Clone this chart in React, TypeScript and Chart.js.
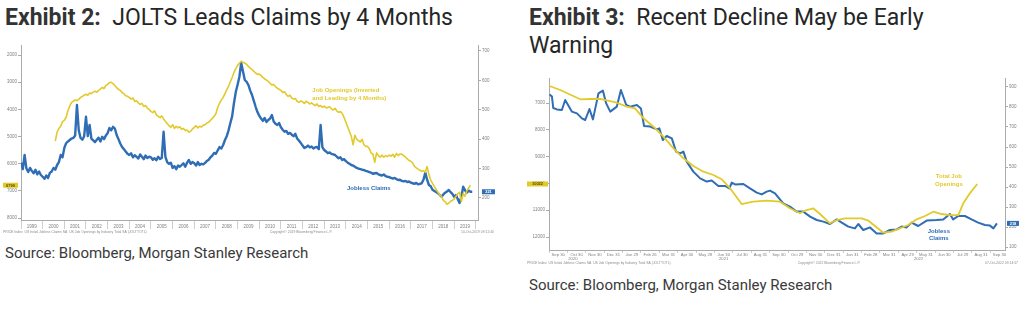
import React, { useEffect, useRef } from "react";
import { Chart, registerables } from "chart.js";

Chart.register(...registerables);

const BLUE = "#2f6db4";
const YELLOW = "#e2ca2c";
const TICK = "#808080";
const AXIS = "#ababab";
const TINY = "'Liberation Sans', Arial, sans-serif";

// ---------------- Exhibit 2 data ----------------
const leftYearLabels = [
  "1999", "2000", "2001", "2002", "2003", "2004", "2005", "2006", "2007", "2008", "2009",
  "2010", "2011", "2012", "2013", "2014", "2015", "2016", "2017", "2018", "2019",
];
// Initial jobless claims (thousands), monthly from Jan 1999
const leftClaimsStartYear = 1999;
const leftClaims = [
  320, 298, 346, 300, 288, 302, 292, 284, 296, 280, 290, 278,
  272, 265, 276, 268, 285, 290, 302, 296, 312, 322, 346, 338,
  370, 386, 392, 397, 402, 404, 412, 516, 430, 404, 398, 410,
  476, 410, 448, 402, 396, 390, 398, 405, 392, 408, 400, 412,
  420, 438, 430, 442, 436, 414, 400, 385, 373, 366, 358, 350,
  346, 352, 338, 345, 340, 334, 348, 340, 332, 344, 336, 340,
  338, 330, 335, 328, 340, 332, 336, 425, 340, 322, 316, 320,
  302, 308, 298, 310, 306, 312, 318, 306, 320, 329, 316, 322,
  318, 310, 322, 312, 316, 314, 319, 326, 330, 338, 344, 353,
  350, 362, 373, 368, 380, 397, 410, 430, 455, 478, 523, 560,
  585, 612, 659, 630, 601, 595, 584, 565, 550, 530, 510, 492,
  480, 470, 462, 472, 458, 465, 470, 482, 460, 452, 448, 455,
  440, 432, 425, 428, 418, 421, 415, 410, 418, 402, 395, 387,
  378, 370, 373, 378, 372, 375, 368, 372, 373, 366, 448, 372,
  363, 358, 352, 355, 350, 348, 346, 340, 335, 338, 329, 332,
  325, 320, 316, 312, 310, 306, 302, 300, 298, 296, 295, 292,
  290, 288, 286, 282, 284, 285, 280, 278, 276, 280, 274, 272,
  271, 268, 266, 268, 264, 261, 262, 258, 256, 258, 254, 256,
  252, 250, 248, 251, 246, 248, 250, 262, 286, 262, 244, 240,
  228, 224, 220, 216, 210, 204, 212, 218, 222, 227, 220, 214,
  204, 210, 196, 183, 205, 238, 226, 218, 225, 221, 221,
];
// Job openings (thousands, inverted axis, led 4 months), monthly from Aug 2000
const leftOpeningsStartYear = 2000 + 7 / 12;
const leftOpenings = [
  5170, 4840, 4700, 4620, 4450,
  4400, 4290, 4050, 3880, 3740, 3700, 3650, 3680, 3630, 3560, 3520, 3480,
  3445, 3480, 3400, 3420, 3360, 3335, 3370, 3300, 3250, 3190, 3230, 3120,
  3080, 3010, 3005, 3050, 3120, 3200, 3260, 3300, 3380, 3420, 3500, 3520,
  3560, 3620, 3580, 3705, 3680, 3760, 3820, 3780, 3890, 3860, 3950, 4010,
  4075, 4120, 4050, 4200, 4255, 4300, 4240, 4350, 4440, 4520, 4600, 4660,
  4560, 4700, 4620, 4680, 4640, 4730, 4700, 4780, 4760, 4840, 4800, 4720,
  4660, 4600, 4680, 4620, 4650, 4580, 4560, 4500, 4470, 4400, 4330, 4255,
  4150, 3920, 3780, 3650, 3560, 3420, 3280, 3150, 2980, 2820, 2640, 2500,
  2380, 2300, 2230, 2260, 2300, 2340, 2420, 2480, 2530, 2600, 2660, 2710,
  2700, 2760, 2820, 2880, 2920, 2970, 3040, 3100, 3080, 3160, 3220, 3260,
  3300, 3380, 3350, 3450, 3520, 3480, 3580, 3620, 3600, 3700, 3740, 3690,
  3720, 3780, 3700, 3740, 3800, 3760, 3820, 3860, 3800, 3890, 3860, 3920,
  3880, 3950, 3920, 3900, 3980, 4020, 3960, 4060, 4110, 4080, 4150, 4300,
  4470, 4650, 4820, 4990, 5300, 4950, 5100, 5150, 5200, 5100, 5300, 5360,
  5360, 5450, 5600, 5650, 5950, 5600, 5700, 5760, 5680, 5760, 5700, 5740,
  5680, 5720, 5650, 5760, 5620, 5700, 5640, 5650, 5700, 5750, 5820, 5880,
  5910, 5980, 6100, 6150, 6200, 6240, 6280, 6260, 6310, 6100, 6400, 6600,
  6720, 6830, 6950, 7050, 7150, 7200, 7350, 7400, 7490, 7450, 7380, 7350,
  7300, 7200, 7100, 7050, 7390, 7100, 7200, 7000, 6900, 6790,
];
const leftOpeningTicks = [2000, 3000, 4000, 5000, 6000, 7000, 8000];
const leftClaimTicks = [200, 300, 400, 500, 600, 700];

// ---------------- Exhibit 3 data ----------------
const rightMonthLabels = [
  "Sep 30", "Oct 30", "Nov 30", "Dec 31", "Jan 29", "Feb 26", "Mar 31", "Apr 30", "May 28",
  "Jun 30", "Jul 30", "Aug 31", "Sep 30", "Oct 29", "Nov 30", "Dec 31", "Jan 31", "Feb 28",
  "Mar 31", "Apr 29", "May 31", "Jun 30", "Jul 29", "Aug 31", "Sep 30",
];
const rightYearLabels = ["2020", "2021", "2022"];
const rightYearCenters = [1.3, 9.5, 20.1]; // months since 1 Sep 2020
// months since 1 Sep 2020
const rightClaimsMonths = [
  0.03, 0.16, 0.23, 0.43, 0.7, 0.88, 1.24, 1.52, 1.79, 1.97, 2.2, 2.39, 2.69, 2.93, 3.11, 3.33,
  3.69, 3.91, 4.2, 4.41, 4.78, 5.0, 5.17, 5.5, 5.86, 6.0, 6.19, 6.4, 6.68, 6.91, 7.13, 7.31,
  7.49, 7.85, 8.22, 8.58, 8.85, 9.21, 9.58, 9.81, 9.94, 10.12, 10.57, 10.93, 11.3, 11.57, 11.84,
  12.02, 12.29, 12.74, 13.1, 13.47, 13.83, 14.2, 14.56, 14.92, 15.28, 15.65, 15.92, 16.28, 16.64,
  16.82, 17.09, 17.46, 17.82, 18.18, 18.54, 18.91, 19.18, 19.45, 19.72, 20.08, 20.54, 21.08,
  21.44, 21.8, 21.98, 22.26, 22.62, 22.98, 23.34, 23.71, 23.98, 24.17, 24.36,
];
const rightClaims = [
  863, 852, 795, 788, 785, 835, 777, 768, 743, 735, 790, 738, 868, 882, 818, 777,
  802, 885, 810, 802, 810, 793, 705, 702, 688, 693, 635, 655, 643, 577, 568, 577,
  527, 477, 443, 427, 432, 405, 405, 393, 422, 413, 415, 393, 372, 363, 377,
  382, 368, 318, 302, 277, 277, 252, 235, 227, 215, 238, 222, 202, 193,
  215, 185, 198, 168, 168, 185, 188, 202, 198, 222, 205, 232, 235,
  238, 265, 238, 255, 255, 238, 222, 210, 207, 193, 218,
];
const rightOpeningsMonths = [
  0.03, 0.61, 1.7, 2.24, 2.78, 3.69, 4.23, 4.68, 5.14, 5.68, 6.22, 6.77, 7.31, 7.85, 8.4, 8.94,
  9.4, 9.85, 10.48, 11.11, 11.84, 12.57, 13.1, 13.65, 13.92, 14.37, 14.74, 15.28, 15.65, 16.1,
  16.55, 17.0, 17.37, 17.73, 18.18, 18.64, 19.09, 19.54, 20.0, 20.45, 20.9, 21.35, 21.8, 22.26,
  22.53, 22.89, 23.29,
];
const rightOpenings = [
  6366, 6515, 6862, 6850, 6850, 6990, 7138, 7200, 7571, 7884, 8257, 8690, 9063, 9350, 9563, 9686,
  9847, 10183, 10769, 10683, 10646, 10683, 10929, 11116, 11019, 10929, 11142, 11489, 11366, 11302,
  11302, 11302, 11392, 11590, 11840, 11802, 11675, 11552, 11340, 11216, 11056, 11142, 11180, 11180,
  10743, 10370, 10022,
];
const rightOpeningTicks = [7000, 8000, 9000, 10000, 11000, 12000];
const rightClaimTicks = [100, 200, 300, 400, 500, 600, 700, 800, 900];

// ---------------- overlay plugin ----------------
type Note = { lines: string[]; x: number; y: number; axis: string; color: string; align: CanvasTextAlign; size: number; lh: number };
type Badge = { axis: string; value: number; text: string; left: number; fromRight: boolean; w: number; h: number; bg: string; fg: string };
type Foot = { text: string; x: number; y: number; align: CanvasTextAlign; size: number };
type YearLab = { text: string; x: number; dy: number; size: number };

function makeOverlay(id: string, notes: Note[], badges: Badge[], foots: Foot[], years: YearLab[]) {
  return {
    id,
    afterDraw(chart: any) {
      const ctx: CanvasRenderingContext2D = chart.ctx;
      const area = chart.chartArea;
      ctx.save();
      ctx.textBaseline = "middle";
      for (const n of notes) {
        const x = chart.scales.x.getPixelForValue(n.x);
        const y = chart.scales[n.axis].getPixelForValue(n.y);
        ctx.font = `bold ${n.size}px ${TINY}`;
        ctx.fillStyle = n.color;
        ctx.textAlign = n.align;
        n.lines.forEach((l, i) => ctx.fillText(l, x, y + i * n.lh));
      }
      for (const b of badges) {
        const y = chart.scales[b.axis].getPixelForValue(b.value);
        const x = b.fromRight ? area.right + b.left : b.left;
        ctx.fillStyle = b.bg;
        ctx.fillRect(x, y - b.h / 2, b.w, b.h);
        ctx.fillStyle = b.fg;
        ctx.font = `bold 4px ${TINY}`;
        ctx.textAlign = "center";
        ctx.fillText(b.text, x + b.w / 2, y + 0.3);
      }
      for (const y of years) {
        ctx.fillStyle = TICK;
        ctx.font = `${y.size}px ${TINY}`;
        ctx.textAlign = "center";
        ctx.fillText(y.text, chart.scales.x.getPixelForValue(y.x), area.bottom + y.dy);
      }
      for (const f of foots) {
        ctx.fillStyle = "#8c8c8c";
        ctx.font = `${f.size}px ${TINY}`;
        ctx.textAlign = f.align;
        ctx.fillText(f.text, f.x, f.y);
      }
      ctx.restore();
    },
  };
}

const tickFont = { size: 4.5, family: TINY };

function Exhibit2Chart() {
  const ref = useRef<HTMLCanvasElement>(null);
  useEffect(() => {
    const claimsPts = leftClaims.map((v, i) => ({ x: leftClaimsStartYear + i / 12, y: v }));
    const openPts = leftOpenings.map((v, i) => ({ x: leftOpeningsStartYear + i / 12, y: v }));
    const lastOpen = leftOpenings[leftOpenings.length - 1];
    const lastClaim = leftClaims[leftClaims.length - 1];
    const overlay = makeOverlay(
      "overlayLeft",
      [
        { lines: ["Job Openings (Inverted", "and Leading by 4 Months)"], x: 2012.45, y: 567, axis: "yR", color: YELLOW, align: "left", size: 6, lh: 8 },
        { lines: ["Jobless Claims"], x: 2014.05, y: 231, axis: "yR", color: BLUE, align: "left", size: 6, lh: 8 },
      ],
      [
        { axis: "yL", value: lastOpen, text: String(lastOpen), left: 3, fromRight: false, w: 15, h: 5, bg: YELLOW, fg: "#5a4a00" },
        { axis: "yR", value: lastClaim, text: String(lastClaim), left: 4, fromRight: true, w: 13, h: 5, bg: BLUE, fg: "#ffffff" },
      ],
      [
        { text: "PRICE Index  US Initial Jobless Claims SA  US Job Openings by Industry Total SA (JOLTTOTL)", x: 3, y: 192, align: "left", size: 3.4 },
        { text: "Copyright© 2019 Bloomberg Finance L.P.", x: 301, y: 192, align: "center", size: 3.4 },
        { text: "10-Oct-2019 09:12:40", x: 494, y: 192, align: "right", size: 3.4 },
      ],
      []
    );
    const chart = new Chart(ref.current as HTMLCanvasElement, {
      type: "line",
      data: {
        datasets: [
          { label: "Job Openings", data: openPts, yAxisID: "yL", borderColor: YELLOW, borderWidth: 1.6, pointRadius: 0, fill: false, borderJoinStyle: "round" },
          { label: "Jobless Claims", data: claimsPts, yAxisID: "yR", borderColor: BLUE, borderWidth: 2.4, pointRadius: 0, fill: false, borderJoinStyle: "round" },
        ],
      },
      options: {
        animation: false,
        responsive: false,
        devicePixelRatio: 1,
        layout: { padding: { top: 5, left: 0, right: 0, bottom: 0 } },
        plugins: { legend: { display: false }, tooltip: { enabled: false } },
        scales: {
          x: {
            type: "linear",
            min: 1999,
            max: 2020.1,
            afterBuildTicks: (s: any) => {
              s.ticks = leftYearLabels.map((_, i) => ({ value: 1999 + i })).concat([{ value: 2020 }]);
            },
            afterFit: (s: any) => { s.height = 20; },
            ticks: {
              autoSkip: false, maxRotation: 0, minRotation: 0, labelOffset: 10.8, padding: -5,
              color: TICK, font: tickFont,
              callback: (v: any) => leftYearLabels[Math.round(Number(v)) - 1999] ?? "",
            },
            grid: { drawOnChartArea: false, drawTicks: true, tickLength: 9, color: "#cfcfcf" },
            border: { color: AXIS },
          },
          yL: {
            type: "linear", position: "left", reverse: true, min: 1630, max: 8070,
            afterBuildTicks: (s: any) => { s.ticks = leftOpeningTicks.map((v) => ({ value: v })); },
            afterFit: (s: any) => { s.width = 21; },
            ticks: { color: TICK, font: tickFont, padding: 1, callback: (v: any) => String(v) },
            grid: { drawOnChartArea: false, tickLength: 3, color: AXIS },
            border: { color: AXIS },
          },
          yR: {
            type: "linear", position: "right", min: 125, max: 720,
            afterBuildTicks: (s: any) => { s.ticks = leftClaimTicks.map((v) => ({ value: v })); },
            afterFit: (s: any) => { s.width = 27; },
            ticks: { color: TICK, font: tickFont, padding: 1, callback: (v: any) => String(v) },
            grid: { drawOnChartArea: false, tickLength: 3, color: AXIS },
            border: { color: AXIS },
          },
        },
      },
      plugins: [overlay],
    } as any);
    return () => chart.destroy();
  }, []);
  return (
    <canvas ref={ref} width={505} height={200}
      style={{ position: "absolute", left: 0, top: 40, width: 505, height: 200 }} />
  );
}

function Exhibit3Chart() {
  const ref = useRef<HTMLCanvasElement>(null);
  useEffect(() => {
    const claimsPts = rightClaims.map((v, i) => ({ x: rightClaimsMonths[i], y: v }));
    const openPts = rightOpenings.map((v, i) => ({ x: rightOpeningsMonths[i], y: v }));
    const lastOpen = rightOpenings[rightOpenings.length - 1];
    const lastClaim = rightClaims[rightClaims.length - 1];
    const overlay = makeOverlay(
      "overlayRight",
      [
        { lines: ["Total Job", "Openings"], x: 21.75, y: 455, axis: "yR", color: YELLOW, align: "center", size: 6, lh: 8 },
        { lines: ["Jobless", "Claims"], x: 21.2, y: 180, axis: "yR", color: BLUE, align: "center", size: 6, lh: 7.5 },
      ],
      [
        { axis: "yL", value: lastOpen, text: String(lastOpen), left: 7, fromRight: false, w: 21, h: 5, bg: YELLOW, fg: "#5a4a00" },
        { axis: "yR", value: lastClaim, text: String(lastClaim), left: 2, fromRight: true, w: 12, h: 5, bg: BLUE, fg: "#ffffff" },
      ],
      [
        { text: "PRICE Index  US Initial Jobless Claims SA  US Job Openings by Industry Total SA (JOLTTOTL)", x: 7, y: 193, align: "left", size: 3.4 },
        { text: "Copyright© 2022 Bloomberg Finance L.P.", x: 309, y: 193, align: "center", size: 3.4 },
        { text: "07-Oct-2022 09:14:57", x: 498, y: 193, align: "right", size: 3.4 },
      ],
      rightYearLabels.map((t, i) => ({ text: t, x: rightYearCenters[i], dy: 8.5, size: 4.2 }))
    );
    const chart = new Chart(ref.current as HTMLCanvasElement, {
      type: "line",
      data: {
        datasets: [
          { label: "Total Job Openings", data: openPts, yAxisID: "yL", borderColor: YELLOW, borderWidth: 1.8, pointRadius: 0, fill: false, borderJoinStyle: "round" },
          { label: "Jobless Claims", data: claimsPts, yAxisID: "yR", borderColor: BLUE, borderWidth: 2, pointRadius: 0, fill: false, borderJoinStyle: "round" },
        ],
      },
      options: {
        animation: false,
        responsive: false,
        devicePixelRatio: 1,
        layout: { padding: { top: 8, left: 0, right: 0, bottom: 0 } },
        plugins: { legend: { display: false }, tooltip: { enabled: false } },
        scales: {
          x: {
            type: "linear",
            min: 0,
            max: 24.8,
            afterBuildTicks: (s: any) => {
              s.ticks = rightMonthLabels.map((_, i) => ({ value: i }));
            },
            afterFit: (s: any) => { s.height = 20; },
            ticks: {
              autoSkip: false, maxRotation: 0, minRotation: 0, labelOffset: 9.2, padding: -1,
              color: TICK, font: { size: 4.2, family: TINY },
              callback: (v: any) => rightMonthLabels[Math.round(Number(v))] ?? "",
            },
            grid: { drawOnChartArea: false, drawTicks: true, tickLength: 3, color: "#cfcfcf" },
            border: { color: AXIS },
          },
          yL: {
            type: "linear", position: "left", reverse: true, min: 6067, max: 12485,
            afterBuildTicks: (s: any) => { s.ticks = rightOpeningTicks.map((v) => ({ value: v })); },
            afterFit: (s: any) => { s.width = 29; },
            ticks: { color: TICK, font: tickFont, padding: 1, callback: (v: any) => String(v) },
            grid: { drawOnChartArea: false, tickLength: 3, color: AXIS },
            border: { color: AXIS },
          },
          yR: {
            type: "linear", position: "right", min: 85, max: 945,
            afterBuildTicks: (s: any) => { s.ticks = rightClaimTicks.map((v) => ({ value: v })); },
            afterFit: (s: any) => { s.width = 19; },
            ticks: { color: TICK, font: tickFont, padding: 1, callback: (v: any) => String(v) },
            grid: { drawOnChartArea: false, tickLength: 3, color: AXIS },
            border: { color: AXIS },
          },
        },
      },
      plugins: [overlay],
    } as any);
    return () => chart.destroy();
  }, []);
  return (
    <canvas ref={ref} width={504} height={200}
      style={{ position: "absolute", left: 520, top: 70, width: 504, height: 200 }} />
  );
}

const titleStyle: React.CSSProperties = {
  position: "absolute",
  top: 4,
  fontFamily: "Roboto, 'Noto Sans', sans-serif",
  fontSize: 23,
  lineHeight: "28px",
  color: "#262626",
  whiteSpace: "pre",
  margin: 0,
};
const sourceStyle: React.CSSProperties = {
  position: "absolute",
  fontFamily: "Roboto, 'Noto Sans', sans-serif",
  fontSize: 15,
  lineHeight: "18px",
  color: "#3a3a3a",
  whiteSpace: "pre",
};

export default function App() {
  return (
    <div style={{ position: "absolute", left: 0, top: 0, width: 1024, height: 322, background: "#ffffff", overflow: "hidden" }}>
      <div style={{ ...titleStyle, left: 5 }}>
        <b style={{ color: "#333" }}>Exhibit 2:</b>{"  JOLTS Leads Claims by 4 Months"}
      </div>
      <div style={{ ...titleStyle, left: 529 }}>
        <b style={{ color: "#333" }}>Exhibit 3:</b>{"  Recent Decline May be Early"}
        <br />
        {"Warning"}
      </div>
      <Exhibit2Chart />
      <Exhibit3Chart />
      <div style={{ ...sourceStyle, left: 5, top: 244 }}>Source: Bloomberg, Morgan Stanley Research</div>
      <div style={{ ...sourceStyle, left: 529, top: 276 }}>Source: Bloomberg, Morgan Stanley Research</div>
    </div>
  );
}
